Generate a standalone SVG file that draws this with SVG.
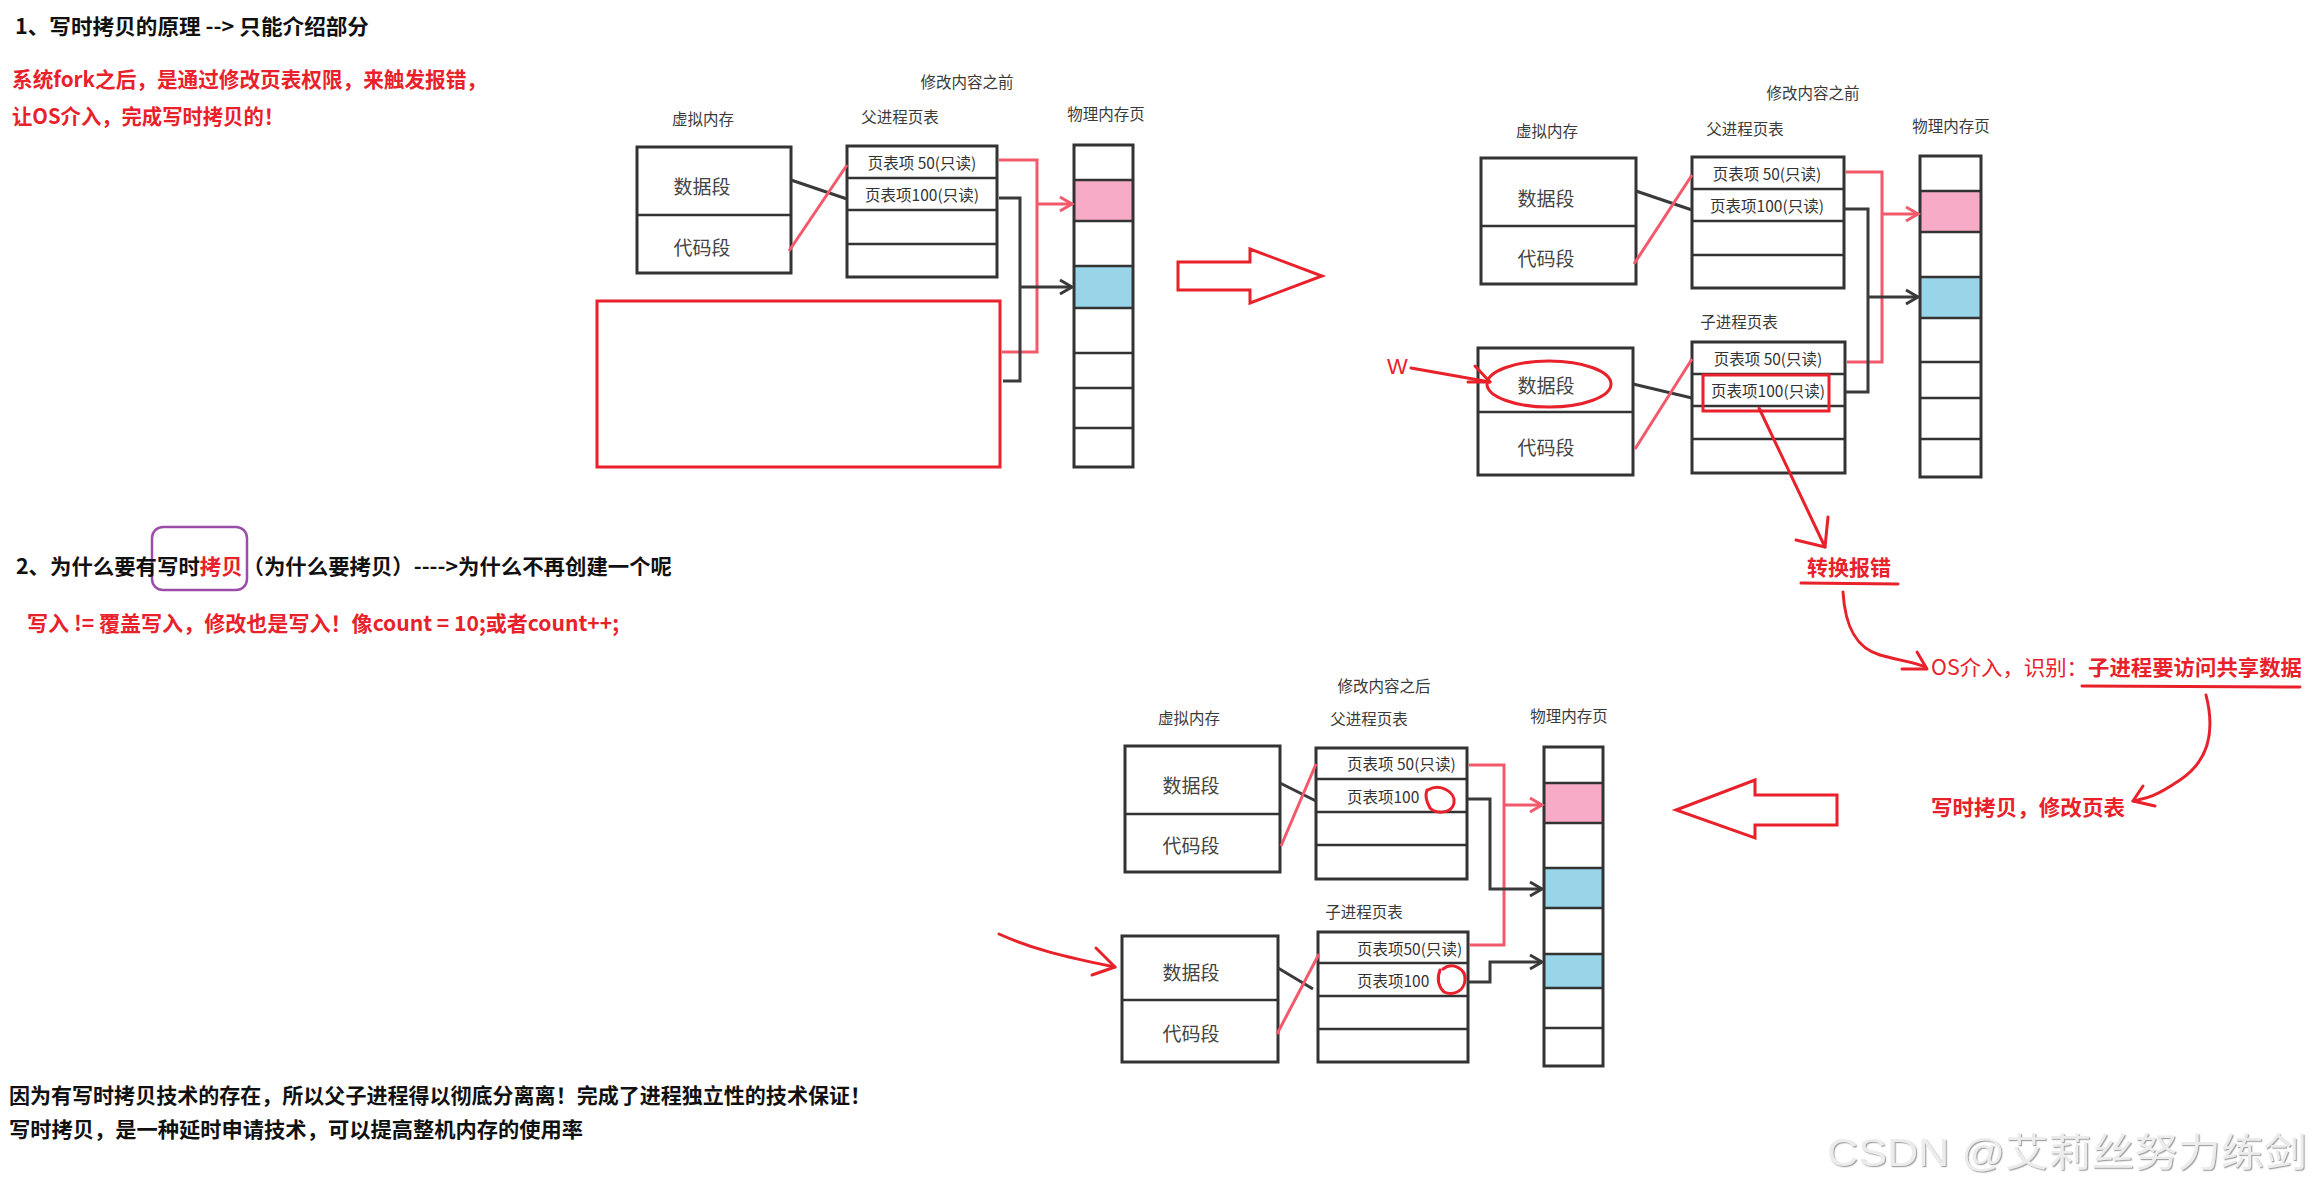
<svg xmlns="http://www.w3.org/2000/svg" width="2316" height="1193" viewBox="0 0 2316 1193">
<style>
  .t { font-family: "Noto Sans CJK SC", "Liberation Sans", sans-serif; }
  .h { font-weight: bold; font-size: 21px; fill: #111; }
  .r { font-weight: bold; font-size: 21px; fill: #e8212b; }
  .lbl { font-size: 15.5px; fill: #3a3a3a; }
  .seg { font-size: 19px; fill: #444; }
  .pt { font-size: 15.5px; fill: #333; }
  .box { fill: #fff; stroke: #333; stroke-width: 3; }
  .ln { stroke: #333; stroke-width: 2.5; fill: none; }
  .pink { fill: #f8abc6; }
  .blue { fill: #98d5e8; }
  .rc { stroke: #f25a6c; stroke-width: 3; fill: none; }
  .bc { stroke: #3a3a3a; stroke-width: 3; fill: none; }
  .ann { stroke: #e8212b; stroke-width: 3; fill: none; stroke-linecap: round; stroke-linejoin: round; }
</style>
<defs>
  <marker id="ar" markerUnits="userSpaceOnUse" markerWidth="18" markerHeight="18" refX="15" refY="9" orient="auto">
    <path d="M3,2 L15,9 L3,16" fill="none" stroke="#f25a6c" stroke-width="3"/>
  </marker>
  <marker id="ab" markerUnits="userSpaceOnUse" markerWidth="18" markerHeight="18" refX="15" refY="9" orient="auto">
    <path d="M3,2 L15,9 L3,16" fill="none" stroke="#3a3a3a" stroke-width="3"/>
  </marker>
  <filter id="emb" x="-5%" y="-20%" width="110%" height="140%">
    <feDropShadow dx="1.2" dy="1.2" stdDeviation="0.6" flood-color="#9a9a9a" flood-opacity="0.9"/>
  </filter>
</defs>
<rect width="2316" height="1193" fill="#fff"/>

<!-- Section texts -->
<g id="section1">
  <text class="t h" x="15" y="25" dominant-baseline="central" textLength="354" lengthAdjust="spacingAndGlyphs">1、写时拷贝的原理 --&gt; 只能介绍部分</text>
  <text class="t r" x="12" y="78" dominant-baseline="central" textLength="475" lengthAdjust="spacingAndGlyphs">系统fork之后，是通过修改页表权限，来触发报错，</text>
  <text class="t r" x="12" y="115" dominant-baseline="central" textLength="272" lengthAdjust="spacingAndGlyphs">让OS介入，完成写时拷贝的！</text>
</g>
<g id="section2">
  <rect x="152" y="527" width="95" height="63" rx="11" fill="none" stroke="#9b4ea8" stroke-width="2.5"/>
  <text class="t h" x="16" y="565" dominant-baseline="central" textLength="656" lengthAdjust="spacingAndGlyphs">2、为什么要有写时<tspan fill="#e8212b">拷贝</tspan>（为什么要拷贝）----&gt;为什么不再创建一个呢</text>
  <text class="t r" x="27" y="622" dominant-baseline="central" font-size="20" textLength="592" lengthAdjust="spacingAndGlyphs">写入 != 覆盖写入，修改也是写入！像count = 10;或者count++;</text>
</g>
<g id="conclusion">
  <text class="t h" x="9" y="1094" dominant-baseline="central" textLength="862" lengthAdjust="spacingAndGlyphs">因为有写时拷贝技术的存在，所以父子进程得以彻底分离离！完成了进程独立性的技术保证！</text>
  <text class="t h" x="9" y="1128" dominant-baseline="central" textLength="574" lengthAdjust="spacingAndGlyphs">写时拷贝，是一种延时申请技术，可以提高整机内存的使用率</text>
</g>

<!-- Diagram 1 -->
<g id="d1-labels" class="t lbl" text-anchor="middle" dominant-baseline="central">
  <text x="967" y="81">修改内容之前</text>
  <text x="703" y="118">虚拟内存</text>
  <text x="900" y="116">父进程页表</text>
  <text x="1106" y="113">物理内存页</text>
</g>
<g id="d1-vm">
  <rect class="box" x="637" y="147" width="154" height="126"/>
  <line class="ln" x1="637" y1="215" x2="791" y2="215"/>
  <text class="t seg" x="702" y="185" text-anchor="middle" dominant-baseline="central">数据段</text>
  <text class="t seg" x="702" y="246" text-anchor="middle" dominant-baseline="central">代码段</text>
</g>
<g id="d1-pt">
  <rect class="box" x="847" y="146" width="150" height="131"/>
  <line class="ln" x1="847" y1="178" x2="997" y2="178"/>
  <line class="ln" x1="847" y1="210" x2="997" y2="210"/>
  <line class="ln" x1="847" y1="244" x2="997" y2="244"/>
  <text class="t pt" x="922" y="162" text-anchor="middle" dominant-baseline="central">页表项 50(只读)</text>
  <text class="t pt" x="922" y="194" text-anchor="middle" dominant-baseline="central">页表项100(只读)</text>
</g>
<g id="d1-mem">
  <rect class="pink" x="1074" y="180" width="59" height="41"/>
  <rect class="blue" x="1074" y="266" width="59" height="42"/>
  <rect class="box" x="1074" y="145" width="59" height="322" style="fill:none"/>
  <path class="ln" d="M1074,180H1133M1074,221H1133M1074,266H1133M1074,308H1133M1074,353H1133M1074,388H1133M1074,428H1133"/>
</g>
<g id="d1-child-placeholder">
  <rect x="597" y="301" width="403" height="166" fill="none" stroke="#e8212b" stroke-width="3"/>
</g>

<!-- Big arrow right -->
<g id="arrow-right">
  <polygon points="1178,262 1250,262 1250,249 1322,276 1250,303 1250,290 1178,290" fill="#fff" stroke="#e8212b" stroke-width="3"/>
</g>

<!-- Diagram 2 -->
<g id="d2-labels" class="t lbl" text-anchor="middle" dominant-baseline="central">
  <text x="1813" y="92">修改内容之前</text>
  <text x="1547" y="130">虚拟内存</text>
  <text x="1745" y="128">父进程页表</text>
  <text x="1951" y="125">物理内存页</text>
  <text x="1739" y="321">子进程页表</text>
</g>
<g id="d2-vm-parent">
  <rect class="box" x="1481" y="158" width="155" height="126"/>
  <line class="ln" x1="1481" y1="226" x2="1636" y2="226"/>
  <text class="t seg" x="1546" y="197" text-anchor="middle" dominant-baseline="central">数据段</text>
  <text class="t seg" x="1546" y="257" text-anchor="middle" dominant-baseline="central">代码段</text>
</g>
<g id="d2-vm-child">
  <rect class="box" x="1478" y="348" width="155" height="127"/>
  <line class="ln" x1="1478" y1="412" x2="1633" y2="412"/>
  <text class="t seg" x="1546" y="384" text-anchor="middle" dominant-baseline="central">数据段</text>
  <text class="t seg" x="1546" y="446" text-anchor="middle" dominant-baseline="central">代码段</text>
</g>
<g id="d2-pt-parent">
  <rect class="box" x="1692" y="157" width="152" height="131"/>
  <line class="ln" x1="1692" y1="189" x2="1844" y2="189"/>
  <line class="ln" x1="1692" y1="221" x2="1844" y2="221"/>
  <line class="ln" x1="1692" y1="255" x2="1844" y2="255"/>
  <text class="t pt" x="1767" y="173" text-anchor="middle" dominant-baseline="central">页表项 50(只读)</text>
  <text class="t pt" x="1767" y="205" text-anchor="middle" dominant-baseline="central">页表项100(只读)</text>
</g>
<g id="d2-pt-child">
  <rect class="box" x="1692" y="342" width="153" height="131"/>
  <line class="ln" x1="1692" y1="374" x2="1845" y2="374"/>
  <line class="ln" x1="1692" y1="406" x2="1845" y2="406"/>
  <line class="ln" x1="1692" y1="439" x2="1845" y2="439"/>
  <text class="t pt" x="1768" y="358" text-anchor="middle" dominant-baseline="central">页表项 50(只读)</text>
  <text class="t pt" x="1768" y="390" text-anchor="middle" dominant-baseline="central">页表项100(只读)</text>
  <rect x="1703" y="375" width="126" height="36" fill="none" stroke="#e8212b" stroke-width="3"/>
</g>
<g id="d2-mem">
  <rect class="pink" x="1920" y="191" width="61" height="41"/>
  <rect class="blue" x="1920" y="277" width="61" height="41"/>
  <rect class="box" x="1920" y="156" width="61" height="321" style="fill:none"/>
  <path class="ln" d="M1920,191H1981M1920,232H1981M1920,277H1981M1920,318H1981M1920,362H1981M1920,398H1981M1920,439H1981"/>
</g>
<g id="d2-write-mark">
  <text x="1387" y="366" font-family="Liberation Sans, sans-serif" font-size="22" fill="#e8212b" dominant-baseline="central">W</text>
  <ellipse class="ann" cx="1549" cy="384" rx="62" ry="23"/>
</g>

<!-- Annotation flow -->
<g id="fault">
  <text class="t r" x="1849" y="566" text-anchor="middle" dominant-baseline="central">转换报错</text>
  <path class="ann" d="M1801,583 L1898,584"/>
</g>
<g id="os">
  <text class="t r" x="1931" y="666" dominant-baseline="central" textLength="371" lengthAdjust="spacingAndGlyphs"><tspan font-weight="normal">OS介入，识别：</tspan>子进程要访问共享数据</text>
  <path class="ann" d="M2082,686 L2300,687"/>
</g>
<g id="cow">
  <text class="t r" x="1931" y="806" dominant-baseline="central" textLength="194" lengthAdjust="spacingAndGlyphs">写时拷贝，修改页表</text>
</g>

<!-- Big arrow left -->
<g id="arrow-left">
  <polygon points="1837,795 1755,795 1755,780 1676,810 1755,838 1755,825 1837,825" fill="#fff" stroke="#e8212b" stroke-width="3"/>
</g>

<!-- Diagram 3 -->
<g id="d3-labels" class="t lbl" text-anchor="middle" dominant-baseline="central">
  <text x="1384" y="685">修改内容之后</text>
  <text x="1189" y="717">虚拟内存</text>
  <text x="1369" y="718">父进程页表</text>
  <text x="1569" y="715">物理内存页</text>
  <text x="1364" y="911">子进程页表</text>
</g>
<g id="d3-vm-parent">
  <rect class="box" x="1125" y="746" width="155" height="126"/>
  <line class="ln" x1="1125" y1="814" x2="1280" y2="814"/>
  <text class="t seg" x="1191" y="784" text-anchor="middle" dominant-baseline="central">数据段</text>
  <text class="t seg" x="1191" y="844" text-anchor="middle" dominant-baseline="central">代码段</text>
</g>
<g id="d3-vm-child">
  <rect class="box" x="1122" y="936" width="156" height="126"/>
  <line class="ln" x1="1122" y1="1000" x2="1278" y2="1000"/>
  <text class="t seg" x="1191" y="971" text-anchor="middle" dominant-baseline="central">数据段</text>
  <text class="t seg" x="1191" y="1032" text-anchor="middle" dominant-baseline="central">代码段</text>
</g>
<g id="d3-pt-parent">
  <rect class="box" x="1316" y="748" width="151" height="131"/>
  <line class="ln" x1="1316" y1="779" x2="1467" y2="779"/>
  <line class="ln" x1="1316" y1="812" x2="1467" y2="812"/>
  <line class="ln" x1="1316" y1="845" x2="1467" y2="845"/>
  <text class="t pt" x="1347" y="763" dominant-baseline="central">页表项 50(只读)</text>
  <text class="t pt" x="1347" y="796" dominant-baseline="central">页表项100</text>
  <path class="ann" d="M1428,790 C1440,783 1456,792 1454,803 C1452,813 1437,815 1430,808 C1426,801 1425,795 1427,790"/>
</g>
<g id="d3-pt-child">
  <rect class="box" x="1318" y="932" width="150" height="130"/>
  <line class="ln" x1="1318" y1="963" x2="1468" y2="963"/>
  <line class="ln" x1="1318" y1="996" x2="1468" y2="996"/>
  <line class="ln" x1="1318" y1="1029" x2="1468" y2="1029"/>
  <text class="t pt" x="1357" y="948" dominant-baseline="central">页表项50(只读)</text>
  <text class="t pt" x="1357" y="980" dominant-baseline="central">页表项100</text>
  <path class="ann" d="M1443,969 C1452,962 1466,968 1465,980 C1464,992 1452,996 1444,992 C1438,986 1437,978 1440,970"/>
</g>
<g id="d3-mem">
  <rect class="pink" x="1544" y="783" width="59" height="40"/>
  <rect class="blue" x="1544" y="868" width="59" height="40"/>
  <rect class="blue" x="1544" y="954" width="59" height="34"/>
  <rect class="box" x="1544" y="747" width="59" height="319" style="fill:none"/>
  <path class="ln" d="M1544,783H1603M1544,823H1603M1544,868H1603M1544,908H1603M1544,954H1603M1544,988H1603M1544,1028H1603"/>
</g>

<!-- Connectors -->
<g id="connectors">
  <!-- diagram 1 -->
  <line class="bc" x1="791" y1="180" x2="847" y2="199"/>
  <line class="rc" x1="789" y1="251" x2="847" y2="165"/>
  <path class="rc" d="M999,160 H1037 V352 H1002"/>
  <path class="rc" d="M1037,204 H1072" marker-end="url(#ar)"/>
  <path class="bc" d="M999,198 H1020 V381 H1003"/>
  <path class="bc" d="M1020,287 H1072" marker-end="url(#ab)"/>
  <!-- diagram 2 -->
  <line class="bc" x1="1636" y1="191" x2="1692" y2="210"/>
  <line class="rc" x1="1634" y1="264" x2="1692" y2="175"/>
  <line class="bc" x1="1633" y1="384" x2="1692" y2="398"/>
  <line class="rc" x1="1635" y1="449" x2="1692" y2="359"/>
  <path class="rc" d="M1845,172 H1882 V362 H1847"/>
  <path class="rc" d="M1882,214 H1918" marker-end="url(#ar)"/>
  <path class="bc" d="M1844,209 H1868 V392 H1845"/>
  <path class="bc" d="M1868,297 H1918" marker-end="url(#ab)"/>
  <!-- diagram 3 -->
  <line class="bc" x1="1280" y1="783" x2="1316" y2="801"/>
  <line class="rc" x1="1281" y1="846" x2="1316" y2="764"/>
  <line class="bc" x1="1278" y1="968" x2="1313" y2="989"/>
  <line class="rc" x1="1277" y1="1034" x2="1319" y2="954"/>
  <path class="rc" d="M1469,765 H1504 V945 H1469"/>
  <path class="rc" d="M1504,805 H1542" marker-end="url(#ar)"/>
  <path class="bc" d="M1467,799 H1490 V889 H1542" marker-end="url(#ab)"/>
  <path class="bc" d="M1467,982 H1490 V962 H1542" marker-end="url(#ab)"/>
  <!-- hand-drawn annotation arrows -->
  <path class="ann" d="M1411,368 L1490,382"/>
  <path class="ann" d="M1475,366 L1490,382 L1468,382"/>
  <path class="ann" d="M1759,408 L1825,547"/>
  <path class="ann" d="M1828,517 L1825,547 L1796,540"/>
  <path class="ann" d="M1843,592 C1845,625 1855,648 1880,655 S1915,662 1925,667"/>
  <path class="ann" d="M1917,652 L1927,669 L1902,669"/>
  <path class="ann" d="M2206,695 C2215,730 2210,760 2180,780 S2145,798 2133,801"/>
  <path class="ann" d="M2143,786 L2133,801 L2155,806"/>
  <path class="ann" d="M999,934 C1030,948 1060,956 1115,967"/>
  <path class="ann" d="M1096,948 L1115,967 L1092,975"/>
</g>

<!-- Watermark -->
<g id="watermark">
  <text x="1827" y="1152" font-family="Liberation Sans, Noto Sans CJK SC, sans-serif" font-size="39" fill="#ececec" filter="url(#emb)" dominant-baseline="central" textLength="480" lengthAdjust="spacingAndGlyphs">CSDN @艾莉丝努力练剑</text>
</g>
</svg>
